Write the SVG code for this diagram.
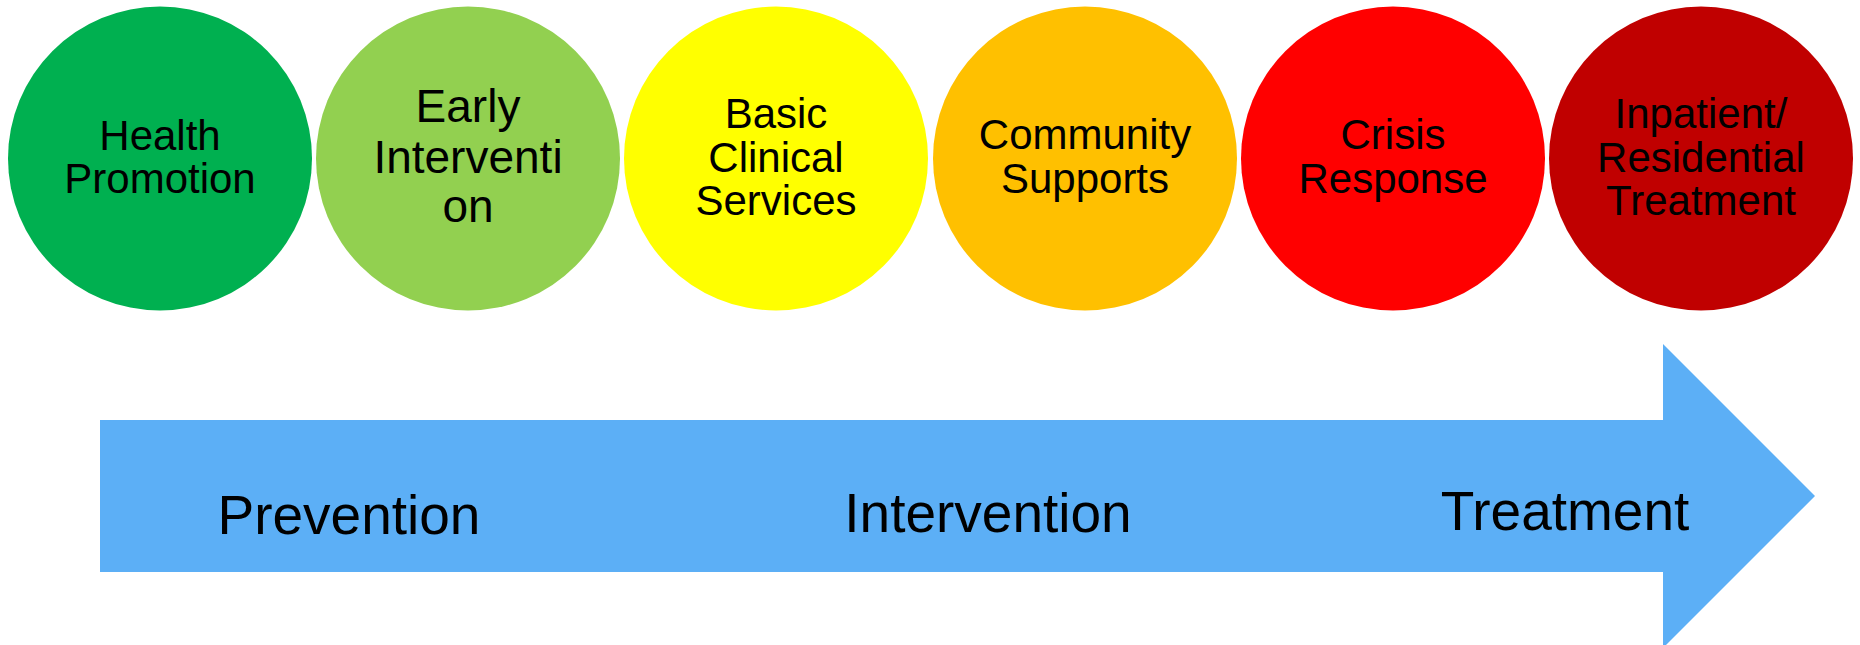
<svg xmlns="http://www.w3.org/2000/svg" width="1860" height="645" viewBox="0 0 1860 645">
  <style>
    .stage { stroke: none; }
    .label { font-family: "Liberation Sans", Arial, sans-serif; fill: #000; text-anchor: middle; }
    .node-text { font-size: 42px; }
    .node-text-lg { font-size: 46px; }
    .phase { font-size: 55px; }
  </style>
  <rect width="1860" height="645" fill="#fff"/>

  <!-- Block arrow spanning the continuum -->
  <g id="continuum-arrow">
    <polygon points="100,420 1663,420 1663,344 1815,496 1663,648 1663,572 100,572" fill="#5CAFF6"/>
    <text class="label phase" x="349" y="534">Prevention</text>
    <text class="label phase" x="988" y="532">Intervention</text>
    <text class="label phase" x="1565" y="530">Treatment</text>
  </g>

  <!-- Service stages -->
  <g id="health-promotion">
    <circle class="stage" cx="160" cy="158.5" r="152" fill="#00B050"/>
    <text class="label node-text" x="160" y="150">Health</text>
    <text class="label node-text" x="160" y="193">Promotion</text>
  </g>
  <g id="early-intervention">
    <circle class="stage" cx="468" cy="158.5" r="152" fill="#92D050"/>
    <text class="label node-text-lg" x="468" y="122">Early</text>
    <text class="label node-text-lg" x="468" y="173">Interventi</text>
    <text class="label node-text-lg" x="468" y="222">on</text>
  </g>
  <g id="basic-clinical-services">
    <circle class="stage" cx="776" cy="158.5" r="152" fill="#FFFF00"/>
    <text class="label node-text" x="776" y="128">Basic</text>
    <text class="label node-text" x="776" y="172">Clinical</text>
    <text class="label node-text" x="776" y="215">Services</text>
  </g>
  <g id="community-supports">
    <circle class="stage" cx="1085" cy="158.5" r="152" fill="#FFC000"/>
    <text class="label node-text" x="1085" y="149">Community</text>
    <text class="label node-text" x="1085" y="193">Supports</text>
  </g>
  <g id="crisis-response">
    <circle class="stage" cx="1393" cy="158.5" r="152" fill="#FF0000"/>
    <text class="label node-text" x="1393" y="149">Crisis</text>
    <text class="label node-text" x="1393" y="193">Response</text>
  </g>
  <g id="inpatient-residential-treatment">
    <circle class="stage" cx="1701" cy="158.5" r="152" fill="#C00000"/>
    <text class="label node-text" x="1701" y="128">Inpatient/</text>
    <text class="label node-text" x="1701" y="172">Residential</text>
    <text class="label node-text" x="1701" y="215">Treatment</text>
  </g>
</svg>
